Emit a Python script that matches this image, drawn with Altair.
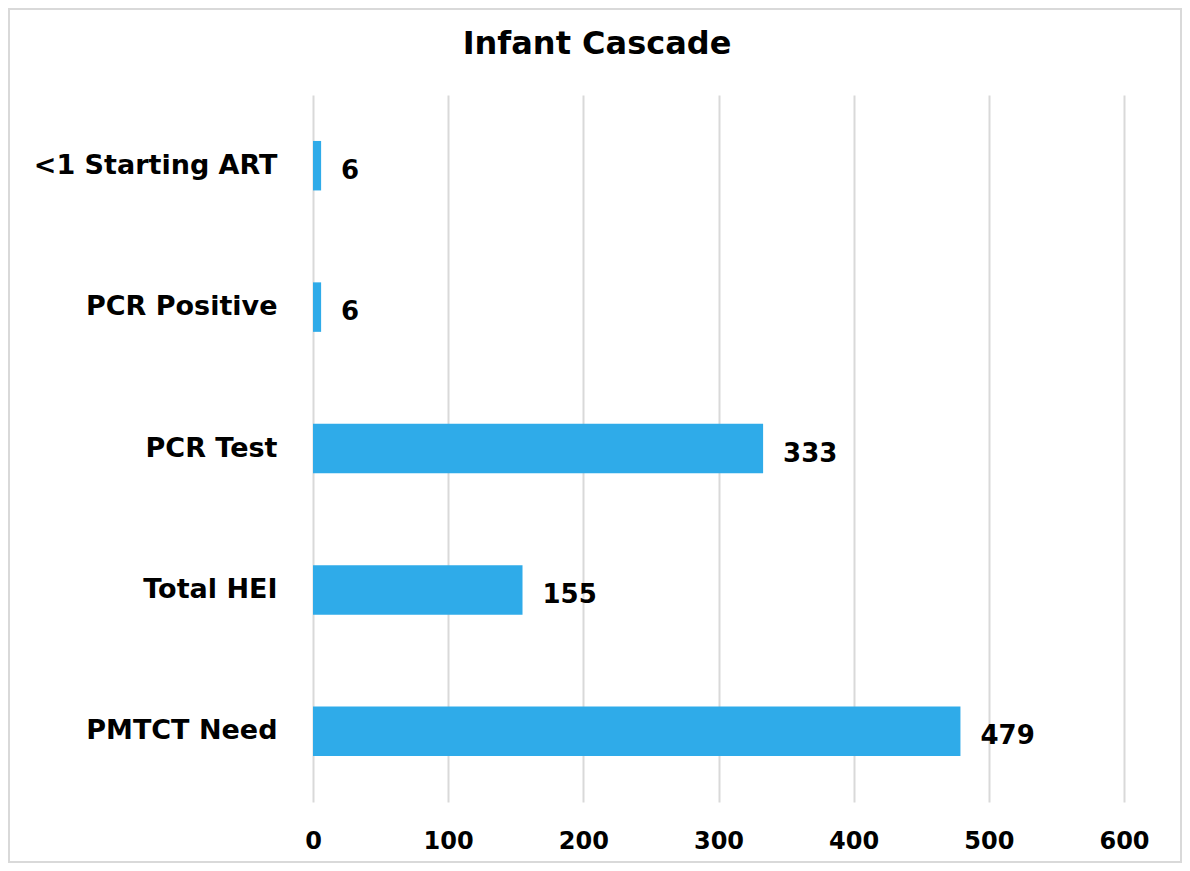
import altair as alt
import pandas as pd

categories = ["<1 Starting ART", "PCR Positive", "PCR Test\u00a0", "Total HEI", "PMTCT Need"]
values = [6, 6, 333, 155, 479]
x_ticks = [0, 100, 200, 300, 400, 500, 600]
title_text = ["Infant Cascade"]

df = pd.DataFrame({"cat": categories, "val": values})
tdf = pd.DataFrame({"t": title_text})

FONT = "DejaVu Sans"
W, H = 811, 707
PL, PT = 305, 87
PR = 1190 - 16 - PL - W
PB = 871 - 16 - PT - H

y_scale = alt.Scale(paddingInner=0.65, paddingOuter=0.325)

bars = alt.Chart(df).mark_bar(color="#2FABE9").encode(
    x=alt.X("val:Q", title=None,
            scale=alt.Scale(domain=[0, 600], nice=False),
            axis=alt.Axis(values=x_ticks, grid=True, gridColor="#D9D9D9", gridWidth=2,
                          domain=False, ticks=False, labelPadding=27, labelFlush=False,
                          labelFont=FONT, labelFontSize=24, labelFontWeight="bold",
                          labelColor="#000000")),
    y=alt.Y("cat:N", sort=categories, title=None, scale=y_scale,
            axis=alt.Axis(domain=False, ticks=False, labelPadding=36,
                          labelFont=FONT, labelFontSize=27, labelFontWeight="bold",
                          labelColor="#000000", labelLimit=400)),
)

labels = alt.Chart(df).mark_text(
    align="left", baseline="middle", dx=20, dy=5,
    font=FONT, fontSize=26, fontWeight="bold", color="#000000"
).encode(
    x="val:Q",
    y=alt.Y("cat:N", sort=categories),
    text="val:Q",
)

title = alt.Chart(tdf).mark_text(
    align="center", baseline="middle", font=FONT, fontSize=32, fontWeight="bold",
    color="#000000", clip=False
).encode(
    x=alt.value(597 - 8 - PL), y=alt.value(44 - 8 - PT), text="t:N"
)

border = alt.Chart(tdf).mark_rect(
    fill=None, stroke="#D9D9D9", strokeWidth=2, clip=False
).encode(
    x=alt.value(-PL + 1), x2=alt.value(W + PR - 1),
    y=alt.value(-PT + 1), y2=alt.value(H + PB - 1),
)

chart = alt.layer(bars, labels, title, border).properties(
    width=W, height=H,
    autosize=alt.AutoSizeParams(type="none"),
    padding={"left": PL, "top": PT, "right": PR, "bottom": PB},
).configure(background="white", view=alt.ViewConfig(stroke=None))

chart.save("out.html", embed_options={"renderer": "svg", "actions": False})
